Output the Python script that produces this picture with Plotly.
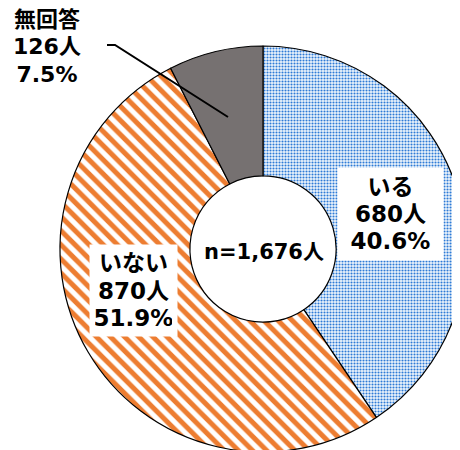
import plotly.graph_objects as go

labels = ["いる", "いない", "無回答"]
counts = [680, 870, 126]
percents = [40.6, 51.9, 7.5]
total_n = 1676

FONT = "DejaVu Sans, Noto Sans CJK JP"
W, H = 460, 450
OFF = 8  # page body margin offset


def px(x):
    return (x - OFF) / W


def py(y):
    return 1 - (y - OFF) / H


fig = go.Figure()
fig.add_trace(go.Pie(
    labels=labels,
    values=counts,
    sort=False,
    direction="clockwise",
    rotation=0,
    hole=0.36,
    textinfo="none",
    hoverinfo="label+value+percent",
    domain=dict(x=[px(60), px(466)], y=[py(452), py(46)]),
    marker=dict(
        colors=["#dce9f7", "#ffffff", "#767171"],
        line=dict(color="#000000", width=1.2),
        pattern=dict(
            shape=[".", "\\", ""],
            fgcolor=["#2e7bd6", "#ed7d31", "#767171"],
            bgcolor=["#eef5fc", "#ffffff", "#767171"],
            size=[3, 10, 8],
            solidity=[0.4, 0.5, 0.3],
            fillmode="replace",
        ),
    ),
    showlegend=False,
))


def lab(i, big=23):
    return "<br>".join(
        f"<span style='font-size:{big}px'>{t}</span>"
        for t in (labels[i], f"{counts[i]}人", f"{percents[i]}%")
    )


base_font = dict(size=21, family=FONT, color="#000", weight="bold")
annos = [
    dict(x=px(390), y=py(214), text=lab(0), bgcolor="#ffffff",
         borderpad=5, width=95, height=82),
    dict(x=px(133), y=py(290), text=lab(1), bgcolor="#ffffff",
         borderpad=5, width=77, height=81),
    dict(x=px(47), y=py(47), text=lab(2, 22), borderpad=0),
    dict(x=px(264), y=py(252), text=f"n={total_n:,}人",
         font=dict(size=21, family=FONT, color="#000", weight="bold")),
]
for a in annos:
    a.setdefault("font", base_font)
    a.update(xref="paper", yref="paper", showarrow=False,
             xanchor="center", yanchor="middle", align="center")

fig.update_layout(
    width=W, height=H,
    margin=dict(l=0, r=0, t=0, b=0),
    paper_bgcolor="#ffffff",
    plot_bgcolor="#ffffff",
    annotations=annos,
    shapes=[dict(
        type="path", xref="paper", yref="paper",
        path=f"M {px(107)},{py(45)} L {px(115)},{py(45)} L {px(228)},{py(117)}",
        line=dict(color="#000000", width=2),
    )],
)

fig.write_html("out.html")
